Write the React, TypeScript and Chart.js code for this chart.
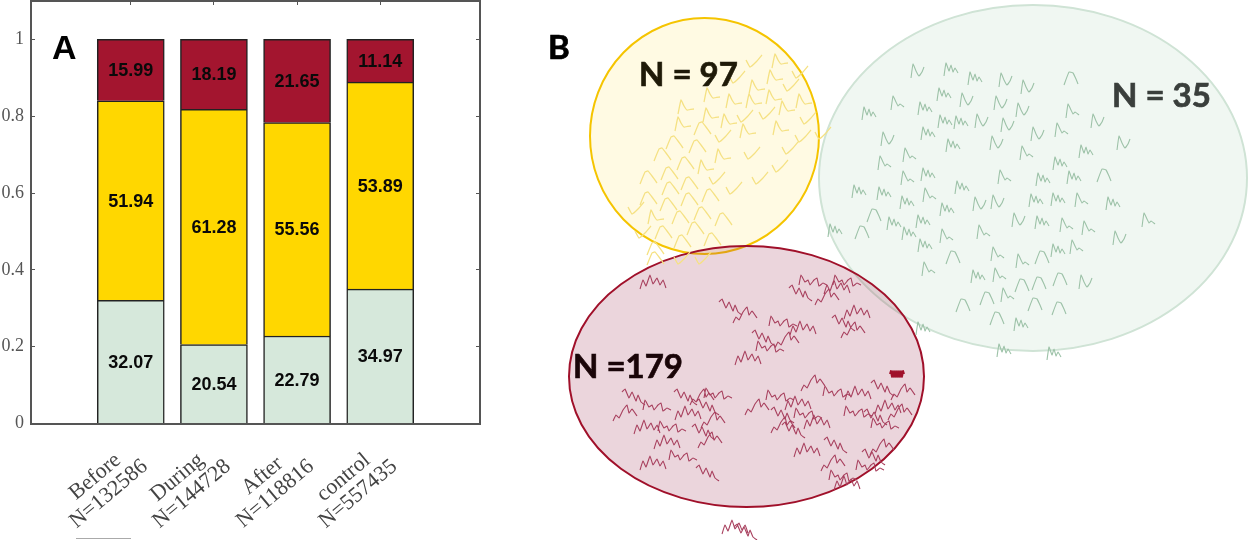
import React, { useEffect, useRef } from "react";
import { Chart, registerables } from "chart.js";

Chart.register(...registerables);

// Panel A
const firstLines = ["Before", "During", "After", "control"];
const secondLines = ["N=132586", "N=144728", "N=118816", "N=557435"];
const barPositions = [1, 2, 3, 4];
const greenValues = [32.07, 20.54, 22.79, 34.97];
const yellowValues = [51.94, 61.28, 55.56, 53.89];
const redValues = [15.99, 18.19, 21.65, 11.14];
const yTickLabels = ["0", "0.2", "0.4", "0.6", "0.8", "1"];

// Panel B: [x, y, shape]
const yellowMarks: [number, number, number][] = [
  [754,61,2],[778,61,1],[737,77,2],[773,77,1],[800,72,2],[755,87,1],[791,85,2],[710,95,1],[732,101,1],[752,101,1],
  [772,97,1],[802,101,1],[684,107,1],[709,115,1],[727,121,1],[745,116,2],[767,113,2],[785,108,1],[808,118,2],[681,124,1],
  [702,128,0],[746,131,1],[779,128,1],[803,136,2],[723,136,2],[674,142,0],[697,146,0],[662,154,0],[721,156,1],[752,153,2],
  [790,148,2],[685,163,0],[704,167,1],[780,166,2],[648,177,0],[669,173,0],[717,178,2],[760,178,2],[689,183,0],[670,188,0],
  [734,188,2],[710,195,0],[648,198,0],[689,199,0],[668,204,0],[636,208,2],[654,217,1],[680,217,0],[702,213,0],[723,219,0],
  [695,228,0],[663,232,0],[682,241,0],[712,239,0],[655,248,0],[643,232,2],[703,258,2],[682,258,2],[823,133,2],[655,258,0]
];
const greenMarks: [number, number, number][] = [
  [917,71,1],[951,69,0],[975,78,0],[1005,80,1],[1027,87,1],[1071,78,2],[869,113,0],[897,103,3],[925,108,0],[944,94,0],
  [966,100,1],[1000,103,1],[1022,110,1],[1072,111,3],[1097,121,1],[887,139,1],[928,133,0],[945,121,0],[961,122,0],[981,121,1],
  [1007,125,1],[1037,134,1],[1061,130,3],[953,145,0],[996,143,1],[1123,143,1],[884,163,3],[909,155,3],[1026,153,3],[1086,151,0],
  [1060,163,0],[907,178,3],[928,174,0],[1004,177,3],[1043,179,0],[1074,177,0],[1104,175,2],[859,191,0],[884,193,0],[962,187,0],
  [929,195,3],[907,202,0],[979,204,1],[997,202,1],[1036,200,0],[1058,199,0],[1081,200,3],[1113,203,0],[947,209,0],[874,215,2],
  [894,223,0],[923,221,0],[1018,220,1],[1042,222,0],[1066,225,3],[1088,228,3],[1148,220,3],[835,230,0],[862,232,2],[909,233,0],
  [946,236,3],[983,232,3],[1119,238,1],[1076,247,3],[1058,250,0],[925,245,0],[953,257,2],[997,254,3],[1042,257,2],[1022,261,3],
  [928,269,3],[978,276,0],[999,275,3],[1022,285,2],[1039,283,2],[1060,279,2],[1085,282,1],[963,305,2],[987,298,2],[1007,295,3],
  [1035,304,2],[1059,308,2],[997,318,2],[1021,324,0],[923,328,0],[1004,350,0],[1054,353,0]
];
const redX = [653,730,745,813,837,800,827,847,857,843,853,783,803,763,787,770,748,633,625,657,647,685,702,718,688,707,713,672,667,703,710,683,653,707,757,780,798,782,783,808,817,793,813,837,858,882,903,858,888,875,900,885,807,835,833,843,847,873,882,870,735,745];
const redY = [282,307,315,282,287,293,297,282,312,323,330,323,328,338,340,348,358,397,413,407,427,397,397,395,413,407,420,428,442,432,440,457,463,473,407,397,403,415,425,415,422,430,383,393,393,388,392,413,407,417,412,425,450,445,463,477,483,457,447,467,527,532];
const blobX = [897];
const blobY = [374];

const yellowShapes = [
  [[-8,7],[-3,-5],[0,-6],[4,-1],[9,6]],
  [[-6,7],[-3,-7],[0,-1],[3,3],[10,2]],
  [[-8,-1],[-4,6],[2,1],[8,-6]]
];
const greenShapes = [
  [[-7,7],[-5,-6],[-2,2],[0,-4],[2,3],[4,-1],[7,4]],
  [[-6,7],[-4,-7],[-1,0],[2,5],[5,1],[7,-4]],
  [[-7,7],[-2,-6],[2,-5],[5,1],[7,6]],
  [[-6,7],[-4,-7],[-1,-1],[1,3],[3,1],[7,4]]
];
const redShapes = [
  [[-13,7],[-10,-2],[-7,4],[-3,-7],[0,2],[4,-4],[7,3],[10,-2],[13,6]],
  [[-11,-5],[-8,-8],[-4,1],[-1,-5],[3,4],[5,-2],[8,5],[12,8]],
  [[-12,8],[-9,2],[-6,5],[-2,-3],[2,-8],[4,0],[7,-4],[12,3]],
  [[-14,3],[-12,-7],[-8,0],[-5,-2],[-3,3],[1,-2],[4,-4],[6,4],[10,1],[14,3]]
];
const blobShape = [[-7,0],[-6,-3],[-5,3],[-4,-3],[-3,3],[-2,-3],[-1,3],[0,-3],[1,3],[2,-3],[3,3],[4,-3],[5,3],[6,-3],[7,0]];

// cx, cy, rx, ry in the same units as the marks
const yellowCluster = [704.5, 136, 114.5, 118];
const greenCluster = [1033, 178, 214, 173];
const redCluster = [746.5, 376.5, 177.5, 130.5];

const clusterNotes = [
  { text: "N = 97", x: 639, y: 86, color: "#1f1a08" },
  { text: "N = 35", x: 1112, y: 107, color: "#3a3f3c" },
  { text: "N =179", x: 573, y: 378, color: "#1a0508" }
];

const FRAME = "#555555";
const SERIF = '22px "Liberation Serif"';

function paddedFirstLine(i: number) {
  const ctx = document.createElement("canvas").getContext("2d")!;
  ctx.font = SERIF;
  const gap = ctx.measureText(secondLines[i]).width - ctx.measureText(firstLines[i]).width;
  const n = Math.max(0, Math.round(gap / 2 / ctx.measureText("\u00A0").width));
  return firstLines[i] + "\u00A0".repeat(n);
}

function tracePoints(marks: number[][], shapes: number[][][]) {
  const out: { x: number; y: number }[] = [];
  marks.forEach((m) => {
    shapes[m[2]].forEach((p) => out.push({ x: m[0] + p[0], y: m[1] + p[1] }));
    out.push({ x: NaN, y: NaN });
  });
  return out;
}

const segmentLabels = {
  id: "segmentLabels",
  afterDatasetsDraw(chart: any) {
    const { ctx, scales } = chart;
    ctx.save();
    ctx.font = 'bold 18px "Liberation Sans"';
    ctx.fillStyle = "#0a0a0a";
    ctx.textAlign = "center";
    ctx.textBaseline = "middle";
    chart.data.datasets.forEach((ds: any, di: number) => {
      const base = chart.data.datasets.slice(0, di);
      ds.data.forEach((d: any, i: number) => {
        const below = base.reduce((s: number, b: any) => s + b.data[i].y, 0);
        ctx.fillText(
          (d.y * 100).toFixed(2),
          scales.x.getPixelForValue(d.x),
          scales.y.getPixelForValue(below + d.y / 2) + 1
        );
      });
    });
    ctx.font = 'bold 34px "Liberation Sans"';
    ctx.textAlign = "left";
    ctx.textBaseline = "alphabetic";
    ctx.fillStyle = "#000";
    ctx.fillText("A", 52, 59);
    ctx.strokeStyle = "#aaaaaa";
    ctx.lineWidth = 1;
    ctx.beginPath();
    ctx.moveTo(76, 538.5);
    ctx.lineTo(131, 538.5);
    ctx.stroke();
    ctx.restore();
  }
};

const clusterShapes = {
  id: "clusterShapes",
  beforeDatasetsDraw(chart: any) {
    const { ctx, scales } = chart;
    const items: [number[], string, string][] = [
      [yellowCluster, "#FFFAE3", "#F5C400"],
      [greenCluster, "rgba(214,232,219,0.36)", "#CFE3D5"],
      [redCluster, "rgba(160,55,88,0.21)", "#A0102A"]
    ];
    ctx.save();
    items.forEach(([c, fill, stroke]) => {
      const cx = scales.x.getPixelForValue(c[0]);
      const cy = scales.y.getPixelForValue(c[1]);
      const rx = Math.abs(scales.x.getPixelForValue(c[0] + c[2]) - cx);
      const ry = Math.abs(scales.y.getPixelForValue(c[1] + c[3]) - cy);
      ctx.beginPath();
      ctx.ellipse(cx, cy, rx, ry, 0, 0, Math.PI * 2);
      ctx.fillStyle = fill;
      ctx.fill();
      ctx.strokeStyle = stroke;
      ctx.lineWidth = 2;
      ctx.stroke();
    });
    ctx.restore();
  },
  afterDatasetsDraw(chart: any) {
    const { ctx, scales } = chart;
    ctx.save();
    ctx.font = 'bold 33px "Lato"';
    ctx.textAlign = "left";
    ctx.textBaseline = "alphabetic";
    ctx.lineWidth = 0.7;
    clusterNotes.forEach((n) => {
      ctx.fillStyle = n.color;
      ctx.strokeStyle = n.color;
      const px = scales.x.getPixelForValue(n.x);
      const py = scales.y.getPixelForValue(n.y);
      ctx.fillText(n.text, px, py);
      ctx.strokeText(n.text, px, py);
    });
    ctx.fillStyle = "#000";
    ctx.strokeStyle = "#000";
    ctx.fillText("B", scales.x.getPixelForValue(548), scales.y.getPixelForValue(59));
    ctx.strokeText("B", scales.x.getPixelForValue(548), scales.y.getPixelForValue(59));
    ctx.restore();
  }
};

export default function App() {
  const barRef = useRef<HTMLCanvasElement>(null);
  const mapRef = useRef<HTMLCanvasElement>(null);

  useEffect(() => {
    const series = (values: number[], color: string) => ({
      data: values.map((v, i) => ({ x: barPositions[i], y: v / 100 })),
      backgroundColor: color,
      borderColor: "#222222",
      borderWidth: 1.5,
      barThickness: 67
    });
    const setXTicks = (s: any) => {
      s.ticks = barPositions.map((value) => ({ value }));
    };
    const fitBox = (height: number | null, width: number | null) => (s: any) => {
      if (height !== null) s.height = height;
      if (width !== null) s.width = width;
      s.paddingTop = s.paddingBottom = s.paddingLeft = s.paddingRight = 0;
    };
    const frameGrid = { drawOnChartArea: false, tickLength: -4, tickColor: FRAME, tickWidth: 1, offset: false };
    const frameBorder = { color: FRAME, width: 2 };
    const barChart = new Chart(barRef.current!, {
      type: "bar",
      data: {
        datasets: [
          series(greenValues, "#D6E8DB"),
          series(yellowValues, "#FFD700"),
          series(redValues, "#A3152F")
        ]
      },
      options: {
        responsive: false,
        animation: false,
        layout: { padding: 0, autoPadding: false },
        plugins: { legend: { display: false }, tooltip: { enabled: false } },
        scales: {
          x: {
            type: "linear",
            stacked: true,
            offset: false,
            min: -0.2,
            max: 5.2,
            afterBuildTicks: setXTicks,
            afterFit: fitBox(116.5, null),
            grid: frameGrid,
            border: frameBorder,
            ticks: {
              autoSkip: false,
              minRotation: 40,
              maxRotation: 40,
              padding: 19,
              color: "#444",
              font: { family: "Liberation Serif", size: 22, lineHeight: 1 },
              callback: (v: any) => {
                const i = barPositions.indexOf(v);
                return i < 0 ? "" : [paddedFirstLine(i), secondLines[i]];
              }
            }
          },
          x2: {
            type: "linear",
            position: "top",
            offset: false,
            min: -0.2,
            max: 5.2,
            afterBuildTicks: setXTicks,
            afterFit: fitBox(1, null),
            grid: frameGrid,
            border: frameBorder,
            ticks: { display: false }
          },
          y: {
            stacked: true,
            min: 0,
            max: 1.1,
            afterFit: fitBox(null, 31),
            grid: frameGrid,
            border: frameBorder,
            ticks: {
              stepSize: 0.2,
              includeBounds: false,
              padding: 11,
              color: "#555",
              font: { family: "Liberation Serif", size: 18 },
              callback: (_v: any, i: number) => yTickLabels[i]
            }
          },
          y2: {
            type: "linear",
            position: "right",
            min: 0,
            max: 1.1,
            afterFit: fitBox(null, 1),
            grid: frameGrid,
            border: frameBorder,
            ticks: { display: false, stepSize: 0.2, includeBounds: false }
          }
        }
      } as any,
      plugins: [segmentLabels]
    } as any);

    const trace = (points: any[], color: string, width: number) => ({
      data: points,
      showLine: true,
      spanGaps: false,
      borderColor: color,
      borderWidth: width,
      pointRadius: 0,
      tension: 0.1
    });
    const mapChart = new Chart(mapRef.current!, {
      type: "scatter",
      data: {
        datasets: [
          trace(tracePoints(yellowMarks, yellowShapes), "#F5E183", 1.3),
          trace(tracePoints(greenMarks, greenShapes), "#9DC2A8", 1.1),
          trace(tracePoints(redX.map((x, i) => [x, redY[i], i % 4]), redShapes), "#A8405E", 1.1),
          trace(tracePoints(blobX.map((x, i) => [x, blobY[i], 0]), [blobShape]), "#A0102A", 2)
        ]
      },
      options: {
        responsive: false,
        animation: false,
        layout: { padding: 0, autoPadding: false },
        plugins: { legend: { display: false }, tooltip: { enabled: false } },
        scales: {
          x: { type: "linear", display: false, min: 540, max: 1248 },
          y: { type: "linear", display: false, min: 0, max: 540, reverse: true }
        }
      } as any,
      plugins: [clusterShapes]
    } as any);

    return () => {
      barChart.destroy();
      mapChart.destroy();
    };
  }, []);

  return (
    <div style={{ position: "absolute", left: 0, top: 0, width: 1248, height: 540, background: "#fff", overflow: "hidden" }}>
      <canvas ref={barRef} width={481} height={540} style={{ position: "absolute", left: 0, top: 0 }} />
      <canvas ref={mapRef} width={708} height={540} style={{ position: "absolute", left: 540, top: 0 }} />
    </div>
  );
}
